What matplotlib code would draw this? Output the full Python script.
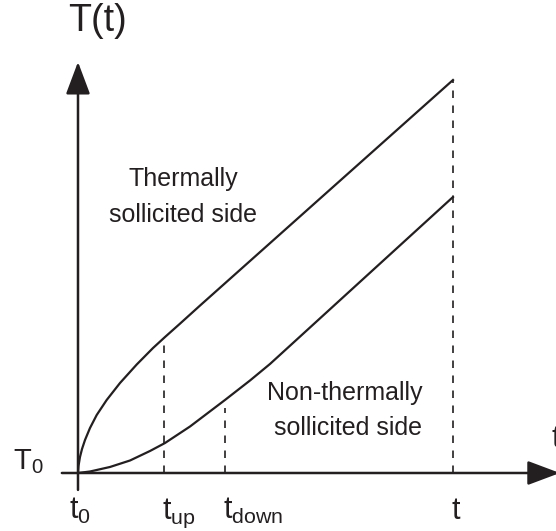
import matplotlib
matplotlib.use("Agg")
import matplotlib.pyplot as plt

plt.rcParams['font.family'] = ['Liberation Sans', 'DejaVu Sans']
plt.rcParams['mathtext.fontset'] = 'custom'
plt.rcParams['mathtext.rm'] = 'Liberation Sans'
plt.rcParams['mathtext.it'] = 'Liberation Sans'

ink = '#231f20'

# curva del lado solicitado térmicamente (tiempo, temperatura), unidades arbitrarias
t_hot = [0, 0.013, 0.053, 0.107, 0.187, 0.32, 0.499, 0.765, 1.12, 1.565, 2.0, 2.32, 2.72, 3.253, 10.0]
T_hot = [0, 0.178, 0.407, 0.611, 0.840, 1.145, 1.476, 1.858, 2.29, 2.76, 3.18, 3.46, 3.80, 4.26, 10.0]

# curva del lado no solicitado
t_cold = [0, 0.32, 0.853, 1.387, 1.92, 2.32, 2.987, 3.92, 4.587, 5.12, 10.0]
T_cold = [0, 0.038, 0.153, 0.318, 0.560, 0.763, 1.183, 1.858, 2.354, 2.774, 7.023]

# instantes marcados y altura de las líneas discontinuas
t_marks = [2.29, 3.91, 10.0]
T_marks = [3.43, 1.65, 10.0]
t_labels = [r'$\mathrm{t}_{\mathrm{up}}$', r'$\mathrm{t}_{\mathrm{down}}$', 't']

fig = plt.figure(figsize=(5.56, 5.31), dpi=100)
ax = fig.add_axes([0, 0, 1, 1])
ax.set_xlim(-2.08, 12.747)
ax.set_ylim(-1.476, 12.036)
ax.axis('off')

# ejes con flecha
arrow = dict(arrowstyle='-|>,head_length=2.0,head_width=0.75', mutation_scale=10,
             lw=1.8, color=ink, shrinkA=0, shrinkB=0)
ax.annotate('', xy=(12.85, 0), xytext=(-0.43, 0), arrowprops=arrow, annotation_clip=False)
ax.annotate('', xy=(0, 10.46), xytext=(0, -0.43), arrowprops=arrow, annotation_clip=False)

ax.plot(t_hot, T_hot, color=ink, lw=1.6, solid_joinstyle='round')
ax.plot(t_cold, T_cold, color=ink, lw=1.6, solid_joinstyle='round')

for tm, Tm in zip(t_marks, T_marks):
    ax.plot([tm, tm], [0, Tm], color=ink, lw=1.2, linestyle=(0, (4.5, 4.5)))

for tm, lab in zip(t_marks, t_labels):
    ax.text(tm - 0.05, -1.17, lab, fontsize=22, ha='left', va='baseline', color=ink)
ax.text(0.053, -1.17, r'$\mathrm{t}_{0}$', fontsize=22, ha='center', va='baseline', color=ink)
ax.text(-1.733, 0.10, r'$\mathrm{T}_{0}$', fontsize=21, ha='left', va='baseline', color=ink)
ax.text(0.507, 11.5, 'T(t)', fontsize=27, ha='center', va='center', color=ink)
ax.text(12.64, 0.66, 't', fontsize=22, ha='left', va='baseline', color=ink)

ax.text(2.8, 7.30, 'Thermally', fontsize=18, ha='center', va='baseline', color=ink)
ax.text(2.8, 6.39, 'sollicited side', fontsize=18, ha='center', va='baseline', color=ink)
ax.text(7.12, 1.857, 'Non-thermally', fontsize=18, ha='center', va='baseline', color=ink)
ax.text(7.2, 0.967, 'sollicited side', fontsize=18, ha='center', va='baseline', color=ink)

fig.savefig('out.png', dpi=100)
